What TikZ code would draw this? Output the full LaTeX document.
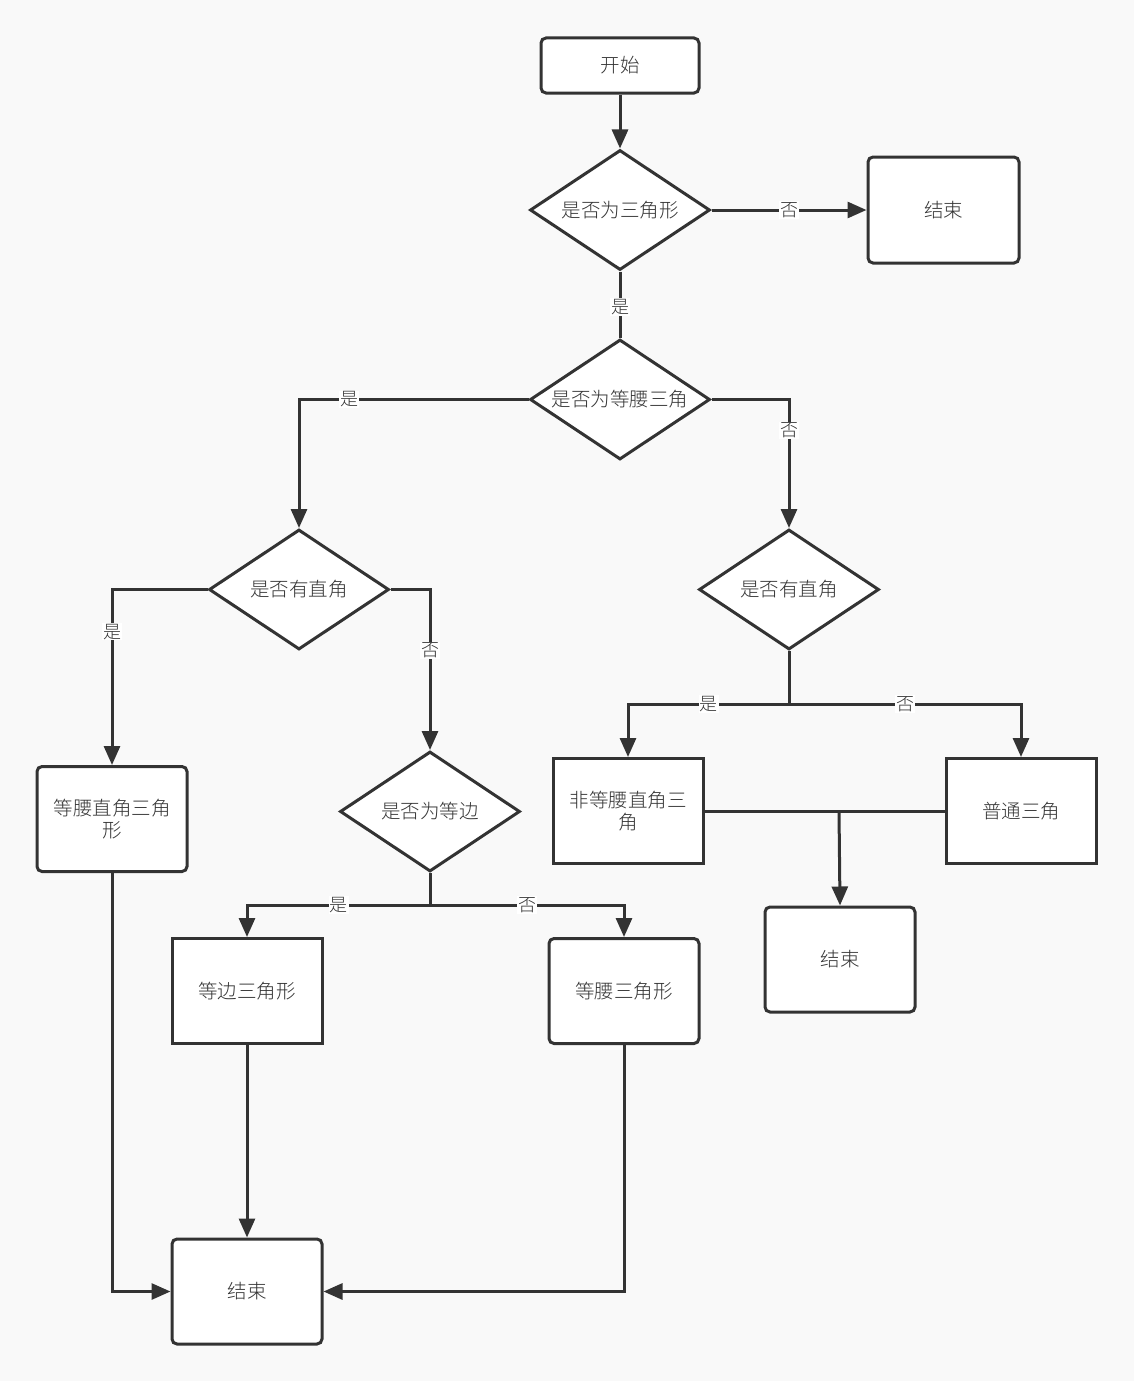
\documentclass[tikz,border=0pt]{standalone}
\usepackage{fontspec}
\newfontfamily\cjk{Noto Sans CJK SC}[UprightFont=* Light]
\usetikzlibrary{arrows.meta,shapes.geometric}
\definecolor{ink}{HTML}{333333}
\definecolor{bg}{HTML}{F9F9F9}
\begin{document}
\begin{tikzpicture}[x=1pt,y=-1pt,
  every node/.style={font=\cjk\fontsize{19.5}{23}\selectfont,text=ink},
  box/.style={draw=ink,line width=3pt,fill=white,minimum width=150pt,minimum height=105pt,inner sep=0pt,align=center},
  rbox/.style={box,rounded corners=5pt},
  dec/.style={draw=ink,line width=3pt,fill=white,diamond,minimum width=180pt,minimum height=120pt,inner sep=0pt,aspect=1.5},
  conn/.style={draw=ink,line width=3pt},
  arr/.style={conn,-{Triangle[length=19pt,width=16pt]}},
  lbl/.style={fill=white,inner sep=1pt,font=\cjk\fontsize{18}{21}\selectfont}
]
\fill[bg] (0,0) rectangle (1134,1381);
\useasboundingbox (0,0) rectangle (1134,1381);

\node[rbox,minimum width=158pt,minimum height=55pt] (start) at (620,65.5) {开始};
\node[dec] (d1) at (620,210) {是否为三角形};
\node[rbox,minimum width=151pt,minimum height=106pt] (end1) at (943.5,210) {结束};
\node[dec] (d2) at (620,399.5) {是否为等腰三角};
\node[dec] (d3) at (299,589.5) {是否有直角};
\node[dec] (d4) at (789,589.5) {是否有直角};
\node[dec] (d5) at (430,811.5) {是否为等边};
\node[rbox] (irt) at (112,819) {等腰直角三角\\[-1pt]形};
\node[box] (nirt) at (628,811) {非等腰直角三\\[-1pt]角};
\node[box] (ord) at (1021,811) {普通三角};
\node[rbox] (end2) at (840,959.5) {结束};
\node[box] (eq) at (247,991) {等边三角形};
\node[rbox] (iso) at (624,991) {等腰三角形};
\node[rbox] (end3) at (247,1291.5) {结束};

\coordinate (j4) at (789,704);
\coordinate (j5) at (430,905);
\coordinate (jm) at (839,811);

\draw[arr] (start) -- (d1);
\draw[arr] (d1) -- node[lbl]{否} (end1);
\draw[conn] (d1) -- node[lbl,pos=0.53]{是} (d2);
\draw[arr] (d2.west) -| node[lbl,pos=0.39]{是} (d3.north);
\draw[arr] (d2.east) -| node[lbl,pos=0.62]{否} (d4.north);
\draw[arr] (d3.west) -| node[lbl,pos=0.62]{是} (irt.north);
\draw[arr] (d3.east) -| node[lbl,pos=0.69]{否} (d5.north);
\draw[conn] (d4.south) -- (j4);
\draw[arr] (j4) -| node[lbl,pos=0.25]{是} (nirt.north);
\draw[arr] (j4) -| node[lbl,pos=0.25]{否} (ord.north);
\draw[conn] (nirt.east) -- (ord.west);
\draw[arr] (jm) -- (end2.north);
\draw[conn] (d5.south) -- (j5);
\draw[arr] (j5) -| node[lbl,pos=0.25]{是} (eq.north);
\draw[arr] (j5) -| node[lbl,pos=0.25]{否} (iso.north);
\draw[arr] (eq) -- (end3);
\draw[arr] (irt.south) |- (end3.west);
\draw[arr] (iso.south) |- (end3.east);
\end{tikzpicture}
\end{document}
